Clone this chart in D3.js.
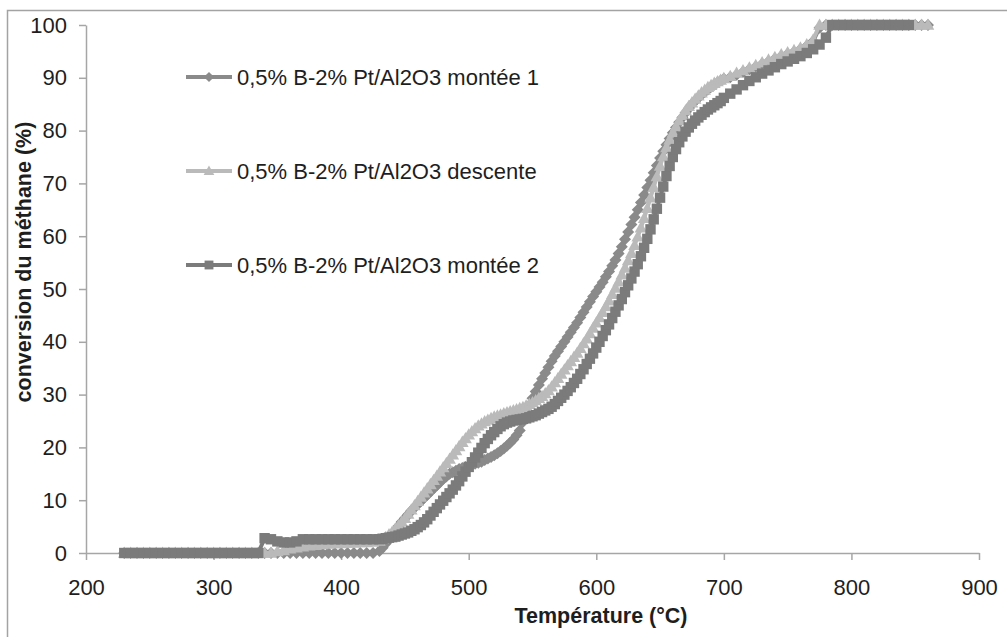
<!DOCTYPE html>
<html><head><meta charset="utf-8">
<script src="https://cdn.jsdelivr.net/npm/d3@7"></script>
<style>
html,body{margin:0;padding:0;background:#fff;}
svg{display:block;}
</style></head><body>
<svg id="chart" width="1007" height="637"></svg>
<script>
// ---- DATA ----
const temperatures = [
230,235,240,245,250,255,260,265,270,275,
280,285,290,295,300,305,310,315,320,325,
330,335,340,345,350,355,360,365,370,375,
380,385,390,395,400,405,410,415,420,425,
430,
432.5,435,437.5,440,442.5,445,447.5,450,452.5,455,
457.5,460,462.5,465,467.5,470,472.5,475,477.5,480,
482.5,485,487.5,490,492.5,495,497.5,500,502.5,505,
507.5,510,512.5,515,517.5,520,522.5,525,527.5,530,
532.5,535,537.5,540,542.5,545,547.5,550,552.5,555,
557.5,560,562.5,565,567.5,570,572.5,575,577.5,580,
582.5,585,587.5,590,592.5,595,597.5,600,602.5,605,
607.5,610,612.5,615,617.5,620,622.5,625,627.5,630,
632.5,635,637.5,640,642.5,645,647.5,650,652.5,655,
657.5,660,662.5,665,667.5,670,672.5,675,677.5,680,
682.5,685,687.5,690,692.5,695,697.5,700,
705,710,715,720,725,730,735,740,745,750,
755,760,765,770,775,780,785,790,795,800,
805,810,815,820,825,830,835,840,845,850,
855,860
];

const monteeUn = [
0,0,0,0,0,0,0,0,0,0,
0,0,0,0,0,0,0,0,0,0,
0,0,0,0,0,0,0,0,0,0,
0,0,0,0,0,0,0,0,0,0,
0.4,
1,1.8,2.6,3.4,4.3,5.1,5.9,6.6,7.3,8,
8.6,9.2,9.8,10.4,11,11.6,12.2,12.8,13.4,14,
14.5,15,15.3,15.6,15.9,16.1,16.3,16.5,16.7,16.9,
17.1,17.3,17.6,17.9,18.2,18.5,18.9,19.3,19.8,20.3,
20.9,21.5,22.3,23.2,24.8,26.5,28,29.3,30.6,31.8,
33,34.1,35.2,36.3,37.3,38.2,39.1,40,40.9,41.8,
42.7,43.6,44.6,45.6,46.6,47.6,48.6,49.5,50.4,51.3,
52.3,53.3,54.4,55.5,56.7,58,59.4,60.8,62.2,63.6,
65,66.4,67.8,69.2,70.6,72,73.4,74.8,76.1,77.3,
78.5,79.6,80.6,81.6,82.5,83.4,84.2,85,85.6,86.2,
86.8,87.3,87.8,88.3,88.7,89.1,89.5,89.8,
90.1,90.6,91.1,91.6,92.1,92.6,93.1,93.6,94.1,94.5,
94.9,95.4,96,96.9,99.5,100,100,100,100,100,
100,100,100,100,100,100,100,100,100,100,
100,100
];

const descente = [
0,0,0,0,0,0,0,0,0,0,
0,0,0,0,0,0,0,0,0,0,
0,0,0,0,0.3,0.5,0.8,1,1.2,1.4,
1.5,1.6,1.7,1.8,1.8,1.9,1.9,2,2,2.1,
2.3,
2.6,3,3.5,4,4.6,5.2,5.9,6.6,7.4,8.2,
9,9.8,10.6,11.4,12.2,13,13.8,14.6,15.4,16.2,
17,17.8,18.6,19.4,20.2,21,21.7,22.4,23,23.6,
24.1,24.5,24.9,25.2,25.5,25.8,26,26.2,26.4,26.6,
26.8,27,27.2,27.4,27.6,27.9,28.2,28.5,28.9,29.3,
29.7,30.2,30.8,31.5,32.3,33.1,33.9,34.7,35.5,36.3,
37.1,37.9,38.8,39.7,40.6,41.6,42.6,43.6,44.6,45.6,
46.7,47.8,49,50.2,51.4,52.7,54,55.4,56.8,58.3,
59.9,61.6,63.4,65.3,67.3,69.3,71.3,73.3,75.1,76.8,
78.3,79.6,80.8,81.9,82.9,83.8,84.6,85.3,86,86.6,
87.2,87.7,88.2,88.6,89,89.3,89.6,89.9,
90.3,90.9,91.4,91.9,92.4,92.9,93.4,93.9,94.4,94.8,
95.2,95.7,96.3,97.2,100,100,100,100,100,100,
100,100,100,100,100,100,100,100,100,100,
100,100
];

const monteeDeux = [
0,0,0,0,0,0,0,0,0,0,
0,0,0,0,0,0,0,0,0,0,
0,0,2.8,2.6,2.2,2,2,2.2,2.6,2.6,
2.6,2.6,2.6,2.6,2.6,2.6,2.6,2.6,2.6,2.6,
2.6,
2.7,2.8,2.9,3,3.1,3.3,3.5,3.7,3.9,4.2,
4.5,4.9,5.3,5.8,6.4,7.1,7.8,8.5,9.2,9.9,
10.6,11.3,12,12.8,13.6,14.5,15.4,16.3,17.2,18.1,
19,19.9,20.8,21.6,22.3,22.9,23.5,24,24.4,24.7,
24.9,25.1,25.2,25.3,25.4,25.5,25.7,25.9,26.1,26.4,
26.7,27,27.3,27.7,28.2,28.8,29.4,30,30.7,31.4,
32.2,33,33.9,34.8,35.8,36.8,37.8,38.9,40,41.1,
42.2,43.3,44.5,45.7,46.9,48.1,49.4,50.7,52,53.3,
54.7,56.2,57.8,59.5,61.3,63.2,65.2,67.3,69.4,71.4,
73.3,75,76.5,77.8,78.9,79.8,80.6,81.3,81.9,82.5,
83,83.5,84,84.4,84.8,85.2,85.6,86.2,
87,87.8,88.6,89.4,90.1,90.8,91.4,92,92.6,93.1,
93.6,94.1,94.7,95.4,96.3,97.6,100,100,100,100,
100,100,100,100,100,100,100,100,100,null,
null,null
];

const seriesNames = [
  "0,5% B-2% Pt/Al2O3 montée 1",
  "0,5% B-2% Pt/Al2O3 descente",
  "0,5% B-2% Pt/Al2O3 montée 2"
];
const xTicks = [200,300,400,500,600,700,800,900];
const yTicks = [0,10,20,30,40,50,60,70,80,90,100];
const xTitle = "Température (°C)";
const yTitle = "conversion du méthane (%)";

// ---- CHART ----
const FONT = "'Liberation Sans', Arial, Helvetica, sans-serif";
const svg = d3.select("#chart");

svg.append("rect").attr("x",7.5).attr("y",10.5).attr("width",1100).attr("height",700)
  .attr("fill","none").attr("stroke","#a3a3a3").attr("stroke-width",1.5);

const x = d3.scaleLinear().domain([200,900]).range([86,979]);
const y = d3.scaleLinear().domain([0,100]).range([553,25]);

const axisColor = "#a6a6a6";
const gx = svg.append("g").attr("transform","translate(0,553)")
  .call(d3.axisBottom(x).tickValues(xTicks).tickSize(7).tickSizeOuter(0).tickPadding(19).tickFormat(d3.format("d")));
const gy = svg.append("g").attr("transform","translate(86,0)")
  .call(d3.axisLeft(y).tickValues(yTicks).tickSize(7).tickSizeOuter(0).tickPadding(12).tickFormat(d3.format("d")));
[gx,gy].forEach(g=>{
  g.select(".domain").attr("stroke",axisColor).attr("stroke-width",1.5);
  g.selectAll(".tick line").attr("stroke",axisColor).attr("stroke-width",1.5);
  g.selectAll(".tick text").attr("fill","#1e1e1e").style("font-family",FONT).style("font-size","22px");
});

const shapes = {
  diamond: "M0,-6L6,0L0,6L-6,0Z",
  triangle: "M0,-6.5L6.3,4.8L-6.3,4.8Z",
  square: "M-5.2,-5.2H5.2V5.2H-5.2Z"
};
const series = [
  {name: seriesNames[0], values: monteeUn,  color: "#8a8a8a", shape: shapes.diamond},
  {name: seriesNames[1], values: descente,  color: "#bababa", shape: shapes.triangle},
  {name: seriesNames[2], values: monteeDeux, color: "#7b7b7b", shape: shapes.square}
];

const line = d3.line().defined(d=>d[1]!=null).x(d=>x(d[0])).y(d=>y(d[1]));

series.forEach(s=>{
  const pts = temperatures.map((t,i)=>[t, s.values[i]]);
  const g = svg.append("g");
  g.append("path").datum(pts).attr("d",line).attr("fill","none")
    .attr("stroke",s.color).attr("stroke-width",4).attr("stroke-linejoin","round");
  g.selectAll("path.m").data(pts.filter(d=>d[1]!=null)).join("path").attr("class","m")
    .attr("d",s.shape).attr("fill",s.color)
    .attr("transform",d=>`translate(${x(d[0])},${y(d[1])})`);
});

// legend
series.forEach((s,i)=>{
  const ly = 77 + i*94;
  const g = svg.append("g");
  g.append("line").attr("x1",186).attr("x2",232).attr("y1",ly).attr("y2",ly)
    .attr("stroke",s.color).attr("stroke-width",4);
  g.append("path").attr("d",s.shape).attr("fill",s.color).attr("transform",`translate(209,${ly}) scale(0.85)`);
  g.append("text").attr("x",237).attr("y",ly).attr("dy","0.35em")
    .style("font-family",FONT).style("font-size","22px").attr("fill","#1e1e1e").text(s.name);
});

// axis titles
svg.append("text").attr("x",601).attr("y",623).attr("text-anchor","middle")
  .style("font-family",FONT).style("font-size","21.5px").style("font-weight","bold")
  .attr("fill","#1e1e1e").text(xTitle);
svg.append("text").attr("transform","translate(31,262) rotate(-90)").attr("text-anchor","middle")
  .style("font-family",FONT).style("font-size","21.5px").style("font-weight","bold")
  .attr("fill","#1e1e1e").text(yTitle);
</script>
</body></html>
